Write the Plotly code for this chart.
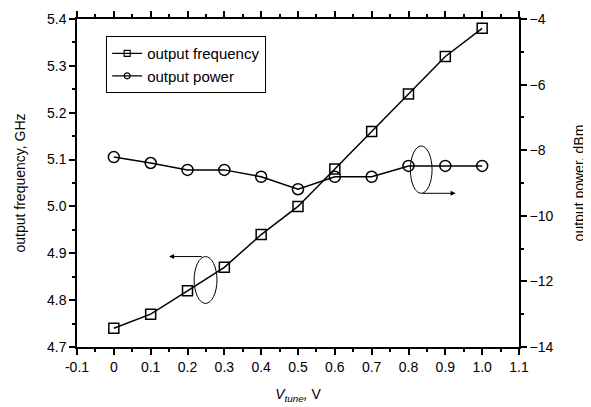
import plotly.graph_objects as go

v_tune = [0.0, 0.1, 0.2, 0.3, 0.4, 0.5, 0.6, 0.7, 0.8, 0.9, 1.0]
freq_ghz = [4.74, 4.77, 4.82, 4.87, 4.94, 5.00, 5.08, 5.16, 5.24, 5.32, 5.38]
power_dbm = [-8.21, -8.39, -8.60, -8.60, -8.81, -9.19, -8.81, -8.81, -8.48, -8.48, -8.48]

x_tickvals = [-0.1, 0.0, 0.1, 0.2, 0.3, 0.4, 0.5, 0.6, 0.7, 0.8, 0.9, 1.0, 1.1]
x_ticktext = ["-0.1", "0", "0.1", "0.2", "0.3", "0.4", "0.5", "0.6", "0.7", "0.8", "0.9", "1.0", "1.1"]
y_tickvals = [4.7, 4.8, 4.9, 5.0, 5.1, 5.2, 5.3, 5.4]
y_ticktext = ["4.7", "4.8", "4.9", "5.0", "5.1", "5.2", "5.3", "5.4"]
y2_tickvals = [-14, -12, -10, -8, -6, -4]

FONT = "Liberation Sans, Arial, sans-serif"

fig = go.Figure()

fig.add_trace(go.Scatter(
    x=v_tune, y=freq_ghz, mode="lines+markers", name="output frequency",
    line=dict(color="black", width=1.5),
    marker=dict(symbol="square-open", size=10, color="black", line=dict(width=1.5)),
    showlegend=False, yaxis="y",
))
fig.add_trace(go.Scatter(
    x=v_tune, y=power_dbm, mode="lines+markers", name="output power",
    line=dict(color="black", width=1.5),
    marker=dict(symbol="circle-open", size=11, color="black", line=dict(width=1.5)),
    showlegend=False, yaxis="y2",
))
# legend-only entries with smaller markers
fig.add_trace(go.Scatter(
    x=[None], y=[None], mode="lines+markers", name="output frequency",
    line=dict(color="black", width=1.2),
    marker=dict(symbol="square-open", size=6, color="black", line=dict(width=1.2)),
))
fig.add_trace(go.Scatter(
    x=[None], y=[None], mode="lines+markers", name="output power",
    line=dict(color="black", width=1.2),
    marker=dict(symbol="circle-open", size=6, color="black", line=dict(width=1.2)),
))

# ellipses
fig.add_shape(type="circle", xref="x", yref="y", x0=0.218, x1=0.280, y0=4.793, y1=4.893,
              line=dict(color="black", width=1))
fig.add_shape(type="circle", xref="x", yref="y", x0=0.805, x1=0.864, y0=5.028, y1=5.129,
              line=dict(color="black", width=1))
# arrows
fig.add_annotation(x=0.150, y=4.893, ax=0.243, ay=4.893, xref="x", yref="y", axref="x", ayref="y",
                   text="", showarrow=True, arrowhead=2, arrowsize=1, arrowwidth=1, arrowcolor="black")
fig.add_annotation(x=0.928, y=5.028, ax=0.834, ay=5.028, xref="x", yref="y", axref="x", ayref="y",
                   text="", showarrow=True, arrowhead=2, arrowsize=1, arrowwidth=1, arrowcolor="black")

# page body has an 8px margin, so the figure is sized/offset to compensate
fig.update_layout(
    width=583, height=399,
    margin=dict(l=69, r=72, t=11, b=60),
    paper_bgcolor="white", plot_bgcolor="white",
    font=dict(family=FONT, size=14, color="black"),
    showlegend=True,
    legend=dict(x=0.066, y=0.948, xanchor="left", yanchor="top",
                bgcolor="white", bordercolor="black", borderwidth=1,
                font=dict(size=15), tracegroupgap=2),
    xaxis=dict(
        range=[-0.1, 1.1], tickvals=x_tickvals, ticktext=x_ticktext, automargin=False,
        showgrid=False, zeroline=False, showline=True, linecolor="black", linewidth=1.5,
        ticks="outside", ticklen=6, tickwidth=1.5, tickcolor="black", mirror="ticks",
        minor=dict(dtick=0.05, tick0=0, ticks="outside", ticklen=3, tickwidth=1.5, tickcolor="black"),
        title=dict(text="<i>V<sub>tune</sub>,</i> V", standoff=16, font=dict(size=14)),
    ),
    yaxis=dict(
        range=[4.7, 5.4], tickvals=y_tickvals, ticktext=y_ticktext, automargin=False,
        showgrid=False, zeroline=False, showline=True, linecolor="black", linewidth=1.5,
        ticks="outside", ticklen=6, tickwidth=1.5, tickcolor="black",
        minor=dict(dtick=0.05, tick0=4.7, ticks="outside", ticklen=3, tickwidth=1.5, tickcolor="black"),
        title=dict(text="output frequency, GHz", standoff=18, font=dict(size=14)),
    ),
    yaxis2=dict(
        range=[-14, -4], tickvals=y2_tickvals, overlaying="y", side="right", automargin=False,
        showgrid=False, zeroline=False, showline=True, linecolor="black", linewidth=1.5,
        ticks="outside", ticklen=6, tickwidth=1.5, tickcolor="black",
        minor=dict(dtick=1, ticks="outside", ticklen=3, tickwidth=1.5, tickcolor="black"),
        title=dict(text="output power, dBm", standoff=22, font=dict(size=14)),
    ),
)

fig.write_html("out.html")
